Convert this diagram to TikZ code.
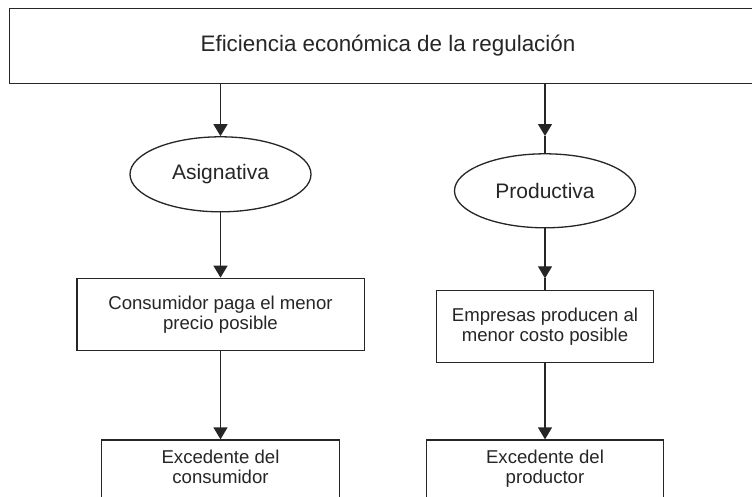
\documentclass[tikz,border=0pt]{standalone}
\usepackage{fontspec}
\setmainfont{Liberation Sans}
\usetikzlibrary{shapes.geometric,arrows.meta}
\definecolor{ink}{HTML}{262626}
\tikzset{
  boxnode/.style={draw=ink, line width=1.3pt, fill=white, rectangle, inner sep=0pt, align=center, text=ink,
    text depth=4pt, font=\fontsize{18.6}{20}\selectfont},
  ovalnode/.style={draw=ink, line width=1.3pt, fill=white, ellipse, inner sep=0pt, text=ink,
    minimum width=181pt, minimum height=75pt, font=\fontsize{21}{24}\selectfont},
  conn/.style={draw=ink, line width=1.3pt},
  arr/.style={conn, -{Triangle[length=12pt,width=14pt]}}
}
\begin{document}
\begin{tikzpicture}[x=1pt,y=-1pt]
\useasboundingbox (0,0) rectangle (752,496);
\clip (0,0) rectangle (752,496);
\fill[white] (0,0) rectangle (752,496);
% top box
\node[boxnode, text depth=, minimum width=757.4pt, minimum height=75pt, font=\fontsize{22.4}{26}\selectfont]
  (topbox) at (388,45.8) {Eficiencia económica de la regulación};
% ellipses
\node[ovalnode] (asig) at (220.5,174.3) {Asignativa};
\node[ovalnode, minimum height=74pt] (prod) at (545,190.8) {Productiva};
% middle boxes
\node[boxnode, minimum width=287.3pt, minimum height=72.4pt] (cons) at (220.5,314.5)
  {\raisebox{-1.4pt}{}Consumidor paga el menor\\precio posible};
\node[boxnode, minimum width=216.6pt, minimum height=72pt] (emp) at (545,326.7)
  {Empresas producen al\\menor costo posible};
% bottom boxes
\node[boxnode, minimum width=237.6pt, minimum height=58pt] (exc1) at (220.5,469)
  {Excedente del\\consumidor};
\node[boxnode, minimum width=236.6pt, minimum height=58pt] (exc2) at (545,469)
  {Excedente del\\productor};
% helper coordinates for mid-line arrowheads
\coordinate (p1) at (545,136);
\coordinate (p2) at (545,278.3);
% connectors
\draw[arr] (asig.north |- topbox.south) -- (asig.north);
\draw[arr] (prod.north |- topbox.south) -- (p1);
\draw[conn] (p1) -- (prod.north);
\draw[arr] (asig.south) -- (cons.north);
\draw[arr] (prod.south) -- (p2);
\draw[conn] (p2) -- (emp.north);
\draw[arr] (cons.south) -- (exc1.north);
\draw[arr] (emp.south) -- (exc2.north);
\end{tikzpicture}
\end{document}
